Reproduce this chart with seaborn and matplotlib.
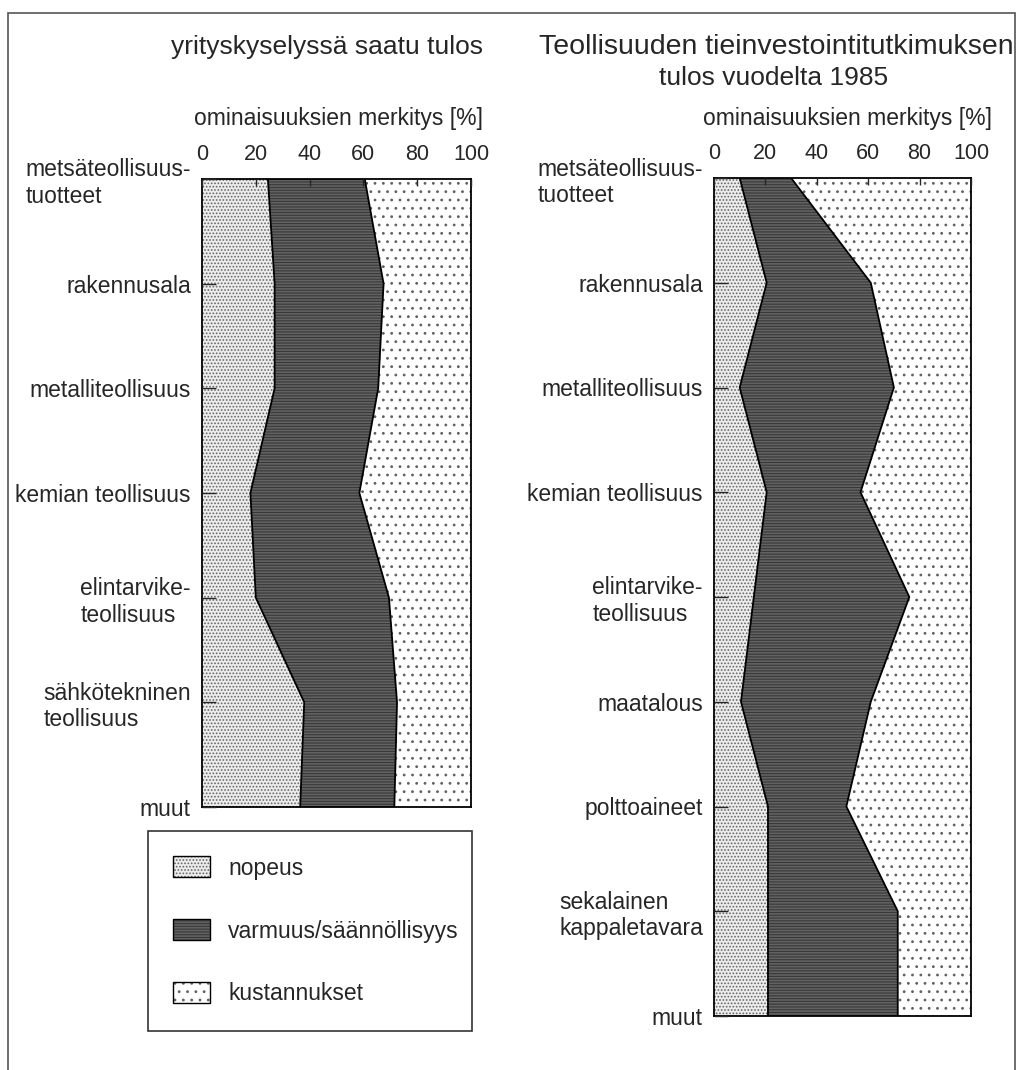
"""
Kuljetusominaisuuksien merkitys toimialoittain: yrityskysely vs. tieinvestointitutkimus 1985
"""

import numpy as np
import matplotlib
matplotlib.use("Agg")
import matplotlib.pyplot as plt
from matplotlib.patches import Patch, Rectangle
from matplotlib.legend_handler import HandlerTuple
import seaborn as sns

# vasen paneeli: yrityskyselyssä saatu tulos (osuudet %, summa 100)
left_cats = ["metsäteollisuus-\ntuotteet", "rakennusala", "metalliteollisuus",
             "kemian teollisuus", "elintarvike-\nteollisuus",
             "sähkötekninen\nteollisuus", "muut"]
left_nopeus = [24.5, 27, 27, 18, 20, 38, 36.5]
left_varmuus = [36, 40.5, 38.5, 40.5, 49.5, 34.5, 35]
left_kustannukset = [39.5, 32.5, 34.5, 41.5, 30.5, 27.5, 28.5]

# oikea paneeli: teollisuuden tieinvestointitutkimus 1985
right_cats = ["metsäteollisuus-\ntuotteet", "rakennusala", "metalliteollisuus",
              "kemian teollisuus", "elintarvike-\nteollisuus", "maatalous",
              "polttoaineet", "sekalainen\nkappaletavara", "muut"]
right_nopeus = [10, 20.5, 10, 20.5, 15.5, 10.5, 21, 21, 21]
right_varmuus = [20, 40.5, 60, 36.5, 60.5, 50.5, 30.5, 50.5, 50.5]
right_kustannukset = [70, 39, 30, 43, 24, 39, 48.5, 28.5, 28.5]

x_ticks = [0, 20, 40, 60, 80, 100]
series_names = ["nopeus", "varmuus/säännöllisyys", "kustannukset"]

# ulkoasu
sns.set_theme(style="ticks")
plt.rcParams["font.family"] = ["Liberation Sans", "DejaVu Sans"]
plt.rcParams["hatch.linewidth"] = 0.8

styles = [
    dict(facecolor="#ececec", edgecolor="#666666", hatch="....."),
    dict(facecolor="#626262", edgecolor="#383838", hatch="------"),
    dict(facecolor="white", edgecolor="#606060", hatch=".."),
]


def draw_panel(ax, cats, nopeus, varmuus, kustannukset):
    pos = np.arange(len(cats))
    b1 = np.array(nopeus)
    b2 = b1 + np.array(varmuus)
    b3 = b2 + np.array(kustannukset)
    lower = [np.zeros(len(cats)), b1, b2]
    upper = [b1, b2, b3]
    for lo, up, st in zip(lower, upper, styles):
        ax.fill_betweenx(pos, lo, up, linewidth=0, **st)
    for b in (b1, b2):
        sns.lineplot(x=b, y=pos, orient="y", color="black", linewidth=1.3, ax=ax)
    ax.set_xlim(0, 100)
    ax.set_ylim(len(cats) - 1, 0)
    ax.xaxis.tick_top()
    ax.set_xticks(x_ticks)
    ax.set_yticks(pos)
    ax.set_yticklabels(cats, multialignment="left")
    ax.tick_params(axis="x", direction="in", length=5, pad=10, labelsize=15.5, width=1)
    ax.tick_params(axis="y", direction="in", length=10, pad=8, labelsize=16.5, width=1)
    ax.set_xlabel("")
    ax.set_ylabel("")
    for s in ax.spines.values():
        s.set_linewidth(1.3)
        s.set_color("black")
        s.set_visible(True)
    ax.set_axisbelow(False)


fig = plt.figure(figsize=(10.28, 10.70), dpi=100)
W, H = 1028, 1070

ax1 = fig.add_axes([202 / W, 1 - 807 / H, 269 / W, 628 / H])
ax2 = fig.add_axes([714 / W, 1 - 1016 / H, 257 / W, 838 / H])

draw_panel(ax1, left_cats, left_nopeus, left_varmuus, left_kustannukset)
draw_panel(ax2, right_cats, right_nopeus, right_varmuus, right_kustannukset)

# otsikot
fig.text(327 / W, 1 - 47 / H, "yrityskyselyssä saatu tulos",
         ha="center", va="center", fontsize=19)
fig.text(776 / W, 1 - 47 / H, "Teollisuuden tieinvestointitutkimuksen",
         ha="center", va="center", fontsize=20.5)
fig.text(774 / W, 1 - 78 / H, "tulos vuodelta 1985",
         ha="center", va="center", fontsize=19)
fig.text(483 / W, 1 - 118 / H, "ominaisuuksien merkitys [%]",
         ha="right", va="center", fontsize=16.5)
fig.text(992 / W, 1 - 118 / H, "ominaisuuksien merkitys [%]",
         ha="right", va="center", fontsize=16.5)

# selite
handles = [(Patch(linewidth=0, **st), Patch(fill=False, edgecolor="black", linewidth=1))
           for st in styles]
leg = fig.legend(handles, series_names, loc="upper left",
                 bbox_to_anchor=(148 / W, 1 - 831 / H, 324 / W, 0), mode="expand",
                 handler_map={tuple: HandlerTuple(ndivide=1)},
                 fontsize=16.5, frameon=True, fancybox=False, edgecolor="black",
                 borderpad=1.1, labelspacing=1.72, handlelength=1.6, handleheight=1.05,
                 handletextpad=0.8, borderaxespad=0)
leg.get_frame().set_linewidth(1.2)

# ulkokehys
fig.add_artist(Rectangle((8 / W, -0.05), (1015 - 8) / W, 1 - 12.5 / H + 0.05,
                         transform=fig.transFigure, fill=False,
                         edgecolor="#555555", linewidth=1.2))

plt.savefig("out.png", dpi=100)
